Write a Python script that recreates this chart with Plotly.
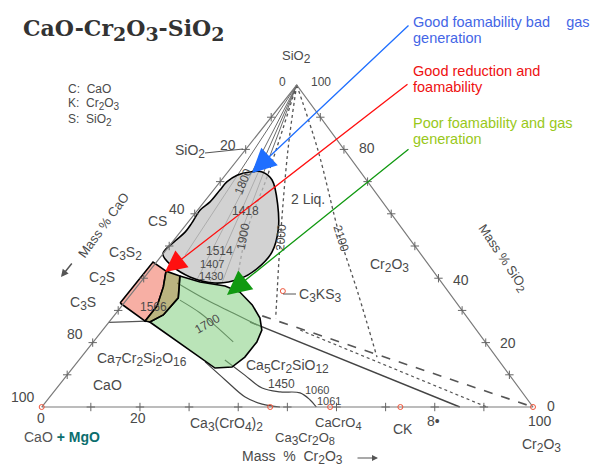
import plotly.graph_objects as go

W, H = 590, 466

# ---------------- data: compositions (mass % Cr2O3, mass % SiO2) ----------------
edge_ticks = [10, 20, 30, 40, 50, 60, 70, 80, 90]
vertex_cr = [0, 100, 0]          # CaO, Cr2O3, SiO2 corners
vertex_si = [0, 0, 100]

# highlighted regions
gray_cr = [7.0, 10.3, 15.5, 19.6, 21.9, 21.6, 19.7, 15.3, 9.2, 3.8, 0.0, 0.3, 1.0, 0.9, 0.5, 1.2, 1.3, 1.4, 2.4, 4.5]
gray_si = [73.0, 70.5, 62.7, 55.0, 48.1, 43.2, 39.8, 38.5, 40.4, 43.8, 47.5, 51.2, 54.3, 57.1, 61.2, 63.7, 67.4, 69.9, 72.0, 73.0]
red_cr = [-0.8, -0.7, 3.4, 5.4, 7.2, 7.2]
red_si = [32.3, 45.0, 42.2, 37.3, 31.4, 26.7]
olive_cr = [3.4, 7.0, 10.2, 9.9, 8.3, 7.2, 7.2, 5.4]
olive_si = [42.2, 40.7, 33.9, 28.6, 26.4, 26.7, 31.4, 37.3]
green_cr = [7.0, 12.1, 17.8, 21.8, 26.4, 30.1, 32.4, 33.3, 33.3, 32.3, 29.0, 8.3, 9.9, 10.2]
green_si = [40.7, 38.8, 37.6, 35.7, 31.7, 27.6, 23.9, 20.2, 15.5, 12.4, 12.1, 26.4, 28.6, 33.9]

# liquidus lines fanning out of the SiO2 corner
fan_end_cr = [4.7, 11.1, 14.1, 16.7]
fan_end_si = [47.2, 39.4, 38.8, 38.5]

# isotherms (dotted)
iso1900_cr = [0, 8.8, 13.3, 19.3]
iso1900_si = [100, 71.4, 55.0, 39.4]
iso2000_cr = [0, 8.7, 22.1, 30.6, 33.3]
iso2000_si = [100, 79.8, 50.9, 33.2, 27.6]
iso2100_cr = [0, 14.8, 33.3, 46.0, 60.2]
iso2100_si = [100, 79.8, 52.8, 35.4, 15.5]

# boundaries towards Cr2O3
solid_cr = [28.7, 85.1]
solid_si = [26.4, 0]
dotted_cr = [40.2, 90.6]
dotted_si = [23.9, 0]
dashed_cr = [30.2, 100]
dashed_si = [28.3, 0]

# curves inside the green field
g1_cr = [7.6, 16.4, 23.8, 30.6]
g1_si = [38.5, 33.2, 29.2, 25.5]
g2_cr = [10.9, 17.1, 22.8, 28.5]
g2_si = [33.2, 29.2, 24.8, 20.2]

# lower boundaries
c3s_cr = [0.0, 7.6]
c3s_si = [26.3, 26.7]
la_cr = [26.0, 33.0, 39.8, 44.4, 48.5]
la_si = [14.0, 8.4, 3.1, 0.9, 0.0]
lb_cr = [29.7, 36.2, 41.8, 46.1, 50.3, 53.5, 55.9]
lb_si = [14.6, 9.9, 5.9, 4.7, 4.4, 2.2, 0.0]

# compounds
c3ks3_cr, c3ks3_si = [30.4], [36.0]
base_cmp_cr = [46.5, 58.7, 73.0]
base_cmp_si = [0, 0, 0]

SKEW = 0.519  # horizontal position of the SiO2 apex


def X(cr, si):
    return [c + SKEW * s for c, s in zip(cr, si)]


fig = go.Figure()

GRAYL = "#5a5a5a"


def line(cr, si, color=GRAYL, width=1.0, dash="solid", shape="linear"):
    fig.add_trace(go.Scatter(x=X(cr, si), y=list(si), mode="lines",
                             line=dict(color=color, width=width, dash=dash, shape=shape),
                             hoverinfo="skip"))


# internal lines
for ec, es in zip(fan_end_cr, fan_end_si):
    line([0, ec], [100, es], "#6a6a6a", 1.0)
line(iso1900_cr, iso1900_si, "#555", 1.3, "dot", "spline")
line(iso2000_cr, iso2000_si, "#555", 1.3, "dot", "spline")
line(iso2100_cr, iso2100_si, "#555", 1.3, "dot", "spline")
line(solid_cr, solid_si, "#444", 1.4)
line(dotted_cr, dotted_si, "#555", 1.2, "dot")
line(dashed_cr, dashed_si, "#555", 1.6, "dash")
line(g1_cr, g1_si, "#444", 1.1, "solid", "spline")
line(g2_cr, g2_si, "#444", 1.1, "solid", "spline")
line(c3s_cr, c3s_si, "#555", 1.2)
line(la_cr, la_si, "#444", 1.2, "solid", "spline")
line(lb_cr, lb_si, "#444", 1.2, "solid", "spline")


def region(cr, si, fillcolor, shape="linear"):
    fig.add_trace(go.Scatter(x=X(cr + cr[:1], si + si[:1]), y=si + si[:1], mode="lines",
                             fill="toself", fillcolor=fillcolor,
                             line=dict(color="black", width=1.6, shape=shape),
                             hoverinfo="skip"))


region(gray_cr, gray_si, "rgba(195,195,195,0.75)", "spline")
region(green_cr, green_si, "rgba(130,205,125,0.55)")
region(red_cr, red_si, "rgba(240,110,90,0.55)")
region(olive_cr, olive_si, "rgba(150,140,60,0.65)")

# triangle edges
line(vertex_cr + vertex_cr[:1], vertex_si + vertex_si[:1], "#7a7a7a", 1.2)

# edge ticks
tick_cr = edge_ticks + [0] * len(edge_ticks) + [100 - t for t in edge_ticks]
tick_si = [0] * len(edge_ticks) + edge_ticks + edge_ticks
fig.add_trace(go.Scatter(x=X(tick_cr, tick_si), y=tick_si, mode="markers",
                         marker=dict(symbol="cross-thin", size=6,
                                     line=dict(color="#666", width=1)),
                         hoverinfo="skip"))
# corner and compound markers
fig.add_trace(go.Scatter(x=X(vertex_cr[:2] + base_cmp_cr + c3ks3_cr, vertex_si[:2] + base_cmp_si + c3ks3_si),
                         y=vertex_si[:2] + base_cmp_si + c3ks3_si, mode="markers",
                         marker=dict(symbol="circle-open", size=5,
                                     line=dict(color="#555", width=1)),
                         hoverinfo="skip"))


# ---------------- text ----------------
def P(px, py):
    return px / W, 1 - py / H


def sb(t, size=12):
    return f'<sub><span style="font-size:{size}px">{t}</span></sub>'


SANS = "Liberation Sans, Arial, sans-serif"
LC = "#4a4a4a"
annos = []


def lab(text, px, py, size=14, color=LC, angle=0, xanchor="center", family=SANS):
    x, y = P(px, py)
    annos.append(dict(text=text, x=x, y=y, xref="paper", yref="paper",
                      xanchor=xanchor, yanchor="middle", showarrow=False,
                      textangle=angle, font=dict(family=family, size=size, color=color)))


# title
lab("CaO-Cr" + sb("2", 19) + "O" + sb("3", 19) + "-SiO" + sb("2", 19), 21, 30, 22, "#333",
    xanchor="left", family="DejaVu Serif, serif")
annos[-1]["font"]["weight"] = "bold"

lab("C:  CaO", 66, 89, 12, xanchor="left")
lab("K:  Cr" + sb("2", 10) + "O" + sb("3", 10), 66, 104, 12, xanchor="left")
lab("S:  SiO" + sb("2", 10), 66, 120, 12, xanchor="left")

lab("SiO" + sb("2"), 297, 57, 13)
lab("0", 282, 82, 12)
lab("100", 321, 82, 12)
lab("SiO" + sb("2"), 190, 152)
lab("20", 228, 145)
lab("CS", 157, 221)
lab("40", 177, 209)
lab("C" + sb("3") + "S" + sb("2"), 125, 253)
lab("C" + sb("2") + "S", 102, 278)
lab("C" + sb("3") + "S", 83, 303)
lab("80", 75, 334)
lab("Ca" + sb("7") + "Cr" + sb("2") + "Si" + sb("2") + "O" + sb("16"), 142, 359)
lab("CaO", 107, 385)
lab("100", 23, 397)
lab("0", 41, 418)
lab("20", 138, 418)
lab('<span style="color:#555">CaO</span> <b><span style="color:#0b6e6e">+ MgO</span></b>', 62, 437, 14)
lab("Ca" + sb("3") + "(CrO" + sb("4") + ")" + sb("2"), 226, 424)
lab("Ca" + sb("3") + "Cr" + sb("2") + "O" + sb("8", 11), 305, 439, 13)
lab("CaCrO" + sb("4", 11), 338, 423, 13)
lab("CK", 403, 429)
lab("8•", 434, 421)
lab("100", 540, 421)
lab("0", 551, 406)
lab("Cr" + sb("2") + "O" + sb("3"), 541, 445)
lab("Mass  %  Cr" + sb("2") + "O" + sb("3"), 292, 457)
lab("Ca" + sb("5") + "Cr" + sb("2") + "SiO" + sb("12"), 287, 366)
lab("1450", 281, 384, 12)
lab("1060", 317, 390, 11)
lab("1061", 329, 401, 11)
lab("1418", 245, 211, 12)
lab("1514", 219, 251, 12)
lab("1407", 212, 264, 11)
lab("1430", 211, 276, 11)
lab("1566", 153, 307, 12)
lab("1700", 207, 324, 12, angle=-30)
lab("1800", 243, 182, 12, angle=-68)
lab("1900", 243, 237, 12, angle=-79)
lab("2000", 281, 238, 12, angle=-86)
lab("2100", 341, 238, 12, angle=72)
lab("2 Liq.", 308, 199)
lab("Cr" + sb("2") + "O" + sb("3"), 389, 265)
lab("C" + sb("3") + "KS" + sb("3"), 320, 295)
lab("80", 367, 148)
lab("40", 461, 280)
lab("20", 508, 343)
lab("Mass % SiO" + sb("2", 11), 503, 258, 13, angle=56)
lab("Mass % CaO", 103, 225, 13, angle=-54)

# call-outs
lab("Good foamability bad\u00a0\u00a0\u00a0 gas", 411, 22, 14.5, "#4466e6", xanchor="left")
lab("generation", 411, 38, 14.5, "#4466e6", xanchor="left")
lab("Good reduction and", 411, 71, 14.5, "#ee1111", xanchor="left")
lab("foamability", 411, 87, 14.5, "#ee1111", xanchor="left")
lab("Poor foamability and gas", 411, 123, 14.5, "#99c81a", xanchor="left")
lab("generation", 411, 139, 14.5, "#99c81a", xanchor="left")


def arrow(tip, tail, color, width, size, head=2):
    x, y = P(*tip)
    annos.append(dict(x=x, y=y, xref="paper", yref="paper", text="", showarrow=True,
                      ax=tail[0] - tip[0], ay=tail[1] - tip[1], axref="pixel", ayref="pixel",
                      arrowhead=head, arrowsize=size, arrowwidth=width, arrowcolor=color))


arrow((252, 173), (410, 24), "#1f6fff", 1.3, 3.7)
arrow((165, 272), (409, 83), "#ff1010", 1.3, 3.3)
arrow((227, 295), (410, 148), "#119911", 1.3, 3.7)
arrow((61, 277), (73, 262), "#555", 1.5, 1.0)
arrow((378, 458), (356, 458), "#555", 1.2, 1.0)

# small leader lines
shapes = []
for (x0, y0), (x1, y1) in [((205, 153), (243, 149)), ((283, 294), (296, 294))]:
    a0, b0 = P(x0, y0)
    a1, b1 = P(x1, y1)
    shapes.append(dict(type="line", xref="paper", yref="paper", x0=a0, y0=b0, x1=a1, y1=b1,
                       line=dict(color="#555", width=1)))

fig.update_layout(
    width=W, height=H, margin=dict(l=0, r=0, t=0, b=0),
    paper_bgcolor="white", plot_bgcolor="white", showlegend=False,
    xaxis=dict(visible=False, range=[-8.488, 111.60], fixedrange=True),
    yaxis=dict(visible=False, range=[-18.32, 126.40], fixedrange=True),
    annotations=annos, shapes=shapes, hovermode=False,
)

fig.write_html("out.html", config={"displayModeBar": False},
               post_script="document.body.style.margin='0';document.body.style.overflow='hidden';")
